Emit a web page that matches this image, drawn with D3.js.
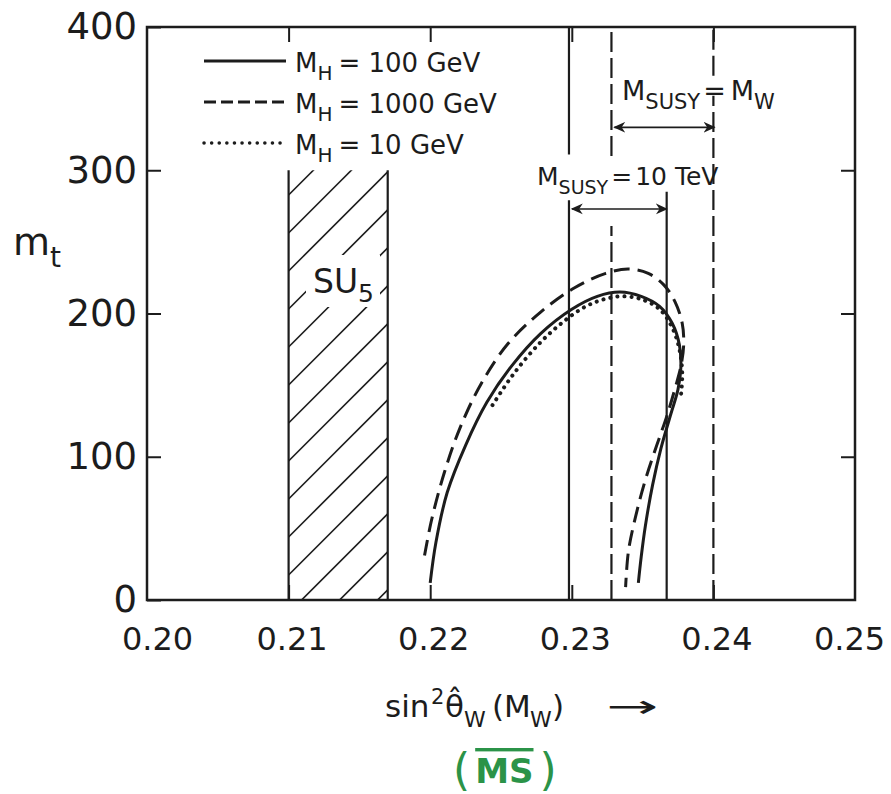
<!DOCTYPE html>
<html><head><meta charset="utf-8">
<script src="https://cdn.jsdelivr.net/npm/d3@7"></script>
<style>
body{margin:0;background:#fff;}
text{font-family:"DejaVu Sans",sans-serif;fill:#1c1c1c;}
</style></head><body>
<svg id="chart" width="891" height="794"></svg>
<script>
// axis ticks
var xTicks = [0.20, 0.21, 0.22, 0.23, 0.24, 0.25];
var yTicks = [0, 100, 200, 300, 400];
var yMinor = [100, 200, 300];
var xInner = [0.21, 0.22, 0.23, 0.24];

// SU5 excluded band (sin2 range) and its height in m_t
var su5Band = [0.210, 0.217];
var su5Top = 300;

// vertical limits: M_SUSY = 10 TeV (solid), M_SUSY = M_W (dashed)
var tevLines = [0.2298, 0.2367];
var mwLines = [0.2328, 0.2400];

// curves [sin2, m_t]
var mh100 = [[0.2200,12],[0.2204,40],[0.2212,75],[0.2225,108],[0.2240,138],[0.2258,164],
  [0.2278,186],[0.2300,203],[0.2318,212],[0.2334,215],[0.2349,212],[0.2362,205],
  [0.2371,193],[0.2376,178],[0.2377,162],[0.2375,147],[0.2370,130],[0.2363,106],
  [0.2357,80],[0.2352,52],[0.2349,30],[0.2347,12]];
var mh1000 = [[0.2196,31],[0.2201,56],[0.2210,89],[0.2221,120],[0.2236,151],[0.2255,179],
  [0.2278,201],[0.2302,218],[0.2324,228],[0.2340,231],[0.2354,228],[0.2365,220],
  [0.2373,208],[0.2378,193],[0.2379,178],[0.2377,163],[0.2373,148],[0.2367,128],
  [0.2360,108],[0.2352,84],[0.2345,58],[0.2340,34],[0.2338,9]];
var mh10 = [[0.2244,136],[0.2259,158],[0.2278,180],[0.2295,195],[0.2310,205],[0.2323,210],
  [0.2336,212],[0.2349,210],[0.2362,203],[0.2371,190],[0.2376,175],[0.2378,158],[0.2377,142]];

var ink = "#1c1c1c";
var svg = d3.select("#chart");
var x = d3.scaleLinear().domain([0.20, 0.25]).range([147, 855]);
var y = d3.scaleLinear().domain([0, 400]).range([600, 27]);

var defs = svg.append("defs");
defs.append("marker").attr("id", "arr").attr("viewBox", "0 -5 10 10")
  .attr("refX", 9).attr("refY", 0).attr("markerWidth", 12).attr("markerHeight", 12)
  .attr("markerUnits", "userSpaceOnUse").attr("orient", "auto-start-reverse")
  .append("path").attr("d", "M0,-4.5L10,0L0,4.5L3,0Z").attr("fill", ink);

// hatch band
var bx0 = x(su5Band[0]), bx1 = x(su5Band[1]);
defs.append("clipPath").attr("id", "band")
  .append("rect").attr("x", bx0).attr("y", y(su5Top)).attr("width", bx1 - bx0).attr("height", y(0) - y(su5Top));
var mask = defs.append("mask").attr("id", "lblgap");
mask.append("rect").attr("x", 0).attr("y", 0).attr("width", 891).attr("height", 794).attr("fill", "#fff");
mask.append("rect").attr("x", 306).attr("y", 255).attr("width", 74).attr("height", 52).attr("fill", "#000");
var hatch = svg.append("g").attr("clip-path", "url(#band)").attr("mask", "url(#lblgap)");
d3.range(-3, 14).forEach(function(k) {
  var yl = 575 - 38 * k;
  hatch.append("line").attr("x1", bx0).attr("y1", yl).attr("x2", bx1).attr("y2", yl - (bx1 - bx0))
    .attr("stroke", ink).attr("stroke-width", 1.6);
});
su5Band.forEach(function(v) {
  svg.append("line").attr("x1", x(v)).attr("x2", x(v)).attr("y1", y(0)).attr("y2", y(su5Top))
    .attr("stroke", ink).attr("stroke-width", 2.2);
});
var su5 = svg.append("text").attr("x", 313).attr("y", 293).attr("font-size", 33);
su5.append("tspan").text("SU");
su5.append("tspan").attr("font-size", 25).attr("dy", 9).text("5");

// vertical reference lines, broken where labels sit (m_t ranges)
function vseg(v, parts, dash) {
  parts.forEach(function(p) {
    svg.append("line").attr("x1", x(v)).attr("x2", x(v)).attr("y1", y(p[0])).attr("y2", y(p[1]))
      .attr("stroke", ink).attr("stroke-width", 2.2).attr("stroke-dasharray", dash);
  });
}
vseg(tevLines[0], [[0, 279], [311, 400]], null);
vseg(tevLines[1], [[0, 285]], null);
vseg(mwLines[0], [[0, 261], [310, 400]], "20 6");
vseg(mwLines[1], [[0, 352], [366, 400]], "20 6");

// arrows
svg.append("line").attr("x1", x(mwLines[0]) + 3).attr("x2", x(mwLines[1]) + 1)
  .attr("y1", y(330)).attr("y2", y(330)).attr("stroke", ink).attr("stroke-width", 1.8)
  .attr("marker-start", "url(#arr)").attr("marker-end", "url(#arr)");
svg.append("line").attr("x1", x(tevLines[0]) + 3).attr("x2", x(tevLines[1]))
  .attr("y1", y(273)).attr("y2", y(273)).attr("stroke", ink).attr("stroke-width", 1.6)
  .attr("marker-start", "url(#arr)").attr("marker-end", "url(#arr)");

function msusy(px, py, fs, tail) {
  var t = svg.append("text").attr("x", px).attr("y", py).attr("font-size", fs);
  t.append("tspan").text("M");
  t.append("tspan").attr("font-size", fs - 6).attr("dy", 9).text("SUSY");
  t.append("tspan").attr("dy", -9).attr("dx", 3).text("=");
  tail(t);
}
msusy(622, 100, 27, function(t) {
  t.append("tspan").attr("dx", 5).text("M");
  t.append("tspan").attr("font-size", 21).attr("dy", 9).text("W");
});
msusy(537, 185, 25, function(t) {
  t.append("tspan").attr("dx", 3).text("10 TeV");
});

// curves
var line = d3.line().x(function(d) { return x(d[0]); }).y(function(d) { return y(d[1]); })
  .curve(d3.curveCatmullRom.alpha(0.5));
svg.append("path").datum(mh1000).attr("d", line).attr("fill", "none").attr("stroke", ink)
  .attr("stroke-width", 3).attr("stroke-dasharray", "16 8");
svg.append("path").datum(mh100).attr("d", line).attr("fill", "none").attr("stroke", ink)
  .attr("stroke-width", 3);
svg.append("path").datum(mh10).attr("d", line).attr("fill", "none").attr("stroke", ink)
  .attr("stroke-width", 4).attr("stroke-linecap", "round").attr("stroke-dasharray", "0.1 7");

// legend
var legend = [["M", "100 GeV", null, 3, "butt"], ["M", "1000 GeV", "12 5", 3, "butt"], ["M", "10 GeV", "0.1 7.5", 3.5, "round"]];
legend.forEach(function(d, i) {
  var ly = 72 + i * 41;
  svg.append("line").attr("x1", 204).attr("x2", 286).attr("y1", ly - 11).attr("y2", ly - 11)
    .attr("stroke", ink).attr("stroke-width", d[3]).attr("stroke-dasharray", d[2]).attr("stroke-linecap", d[4]);
  var t = svg.append("text").attr("x", 295).attr("y", ly).attr("font-size", 26);
  t.append("tspan").text(d[0]);
  t.append("tspan").attr("font-size", 20).attr("dy", 8).text("H");
  t.append("tspan").attr("dy", -8).attr("dx", 6).text("= " + d[1]);
});

// frame and axes
svg.append("rect").attr("x", x(0.20)).attr("y", y(400)).attr("width", x(0.25) - x(0.20))
  .attr("height", y(0) - y(400)).attr("fill", "none").attr("stroke", ink).attr("stroke-width", 2.5);

var gl = svg.append("g").attr("transform", "translate(" + x(0.20) + ",0)")
  .call(d3.axisLeft(y).tickValues(yTicks).tickSize(-14).tickPadding(10).tickFormat(d3.format("d")));
var gb = svg.append("g").attr("transform", "translate(0," + y(0) + ")")
  .call(d3.axisBottom(x).tickValues(xTicks).tickSize(0).tickPadding(27).tickFormat(d3.format(".2f")));
var gbt = svg.append("g").attr("transform", "translate(0," + y(0) + ")")
  .call(d3.axisBottom(x).tickValues(xInner).tickSize(-15).tickFormat(""));
var gt = svg.append("g").attr("transform", "translate(0," + y(400) + ")")
  .call(d3.axisTop(x).tickValues(xInner).tickSize(-15).tickFormat(""));
var gr = svg.append("g").attr("transform", "translate(" + x(0.25) + ",0)")
  .call(d3.axisRight(y).tickValues(yMinor).tickSize(-14).tickFormat(""));
[gl, gb, gbt, gt, gr].forEach(function(g) {
  g.select(".domain").remove();
  g.selectAll(".tick line").attr("stroke", ink).attr("stroke-width", 2);
  g.selectAll(".tick text").attr("fill", ink).attr("font-family", "DejaVu Sans");
});
gl.selectAll(".tick text").attr("font-size", 37);
gb.selectAll(".tick text").attr("font-size", 32)
  .attr("dx", function(d, i) { return i === 0 ? 10 : (i === xTicks.length - 1 ? -6 : 3); });

// axis titles
var yl = svg.append("text").attr("x", 13).attr("y", 255).attr("font-size", 38);
yl.append("tspan").text("m");
yl.append("tspan").attr("font-size", 28).attr("dy", 12).text("t");

var xt = svg.append("text").attr("y", 717).attr("font-size", 31);
xt.append("tspan").attr("x", 385).text("sin");
xt.append("tspan").attr("x", 431).attr("font-size", 21).attr("dy", -13).text("2");
xt.append("tspan").attr("x", 445).attr("dy", 13).text("\u03b8\u0302");
xt.append("tspan").attr("x", 464).attr("font-size", 22).attr("dy", 10).text("W");
xt.append("tspan").attr("x", 492).attr("dy", -10).text("(M");
xt.append("tspan").attr("x", 530).attr("font-size", 22).attr("dy", 10).text("W");
xt.append("tspan").attr("x", 552).attr("dy", -10).text(")");
svg.append("text").attr("transform", "translate(606,717) scale(2,1)").attr("font-size", 31).text("\u2192");

var ms = svg.append("text").attr("x", 453).attr("y", 785).attr("font-size", 44).style("fill", "#2b9348");
ms.append("tspan").text("(");
ms.append("tspan").attr("font-weight", "bold").attr("font-size", 34).attr("dx", 5).attr("dy", -2).attr("text-decoration", "overline").text("MS");
ms.append("tspan").attr("dx", 6).attr("dy", 2).text(")");
</script>
</body></html>
